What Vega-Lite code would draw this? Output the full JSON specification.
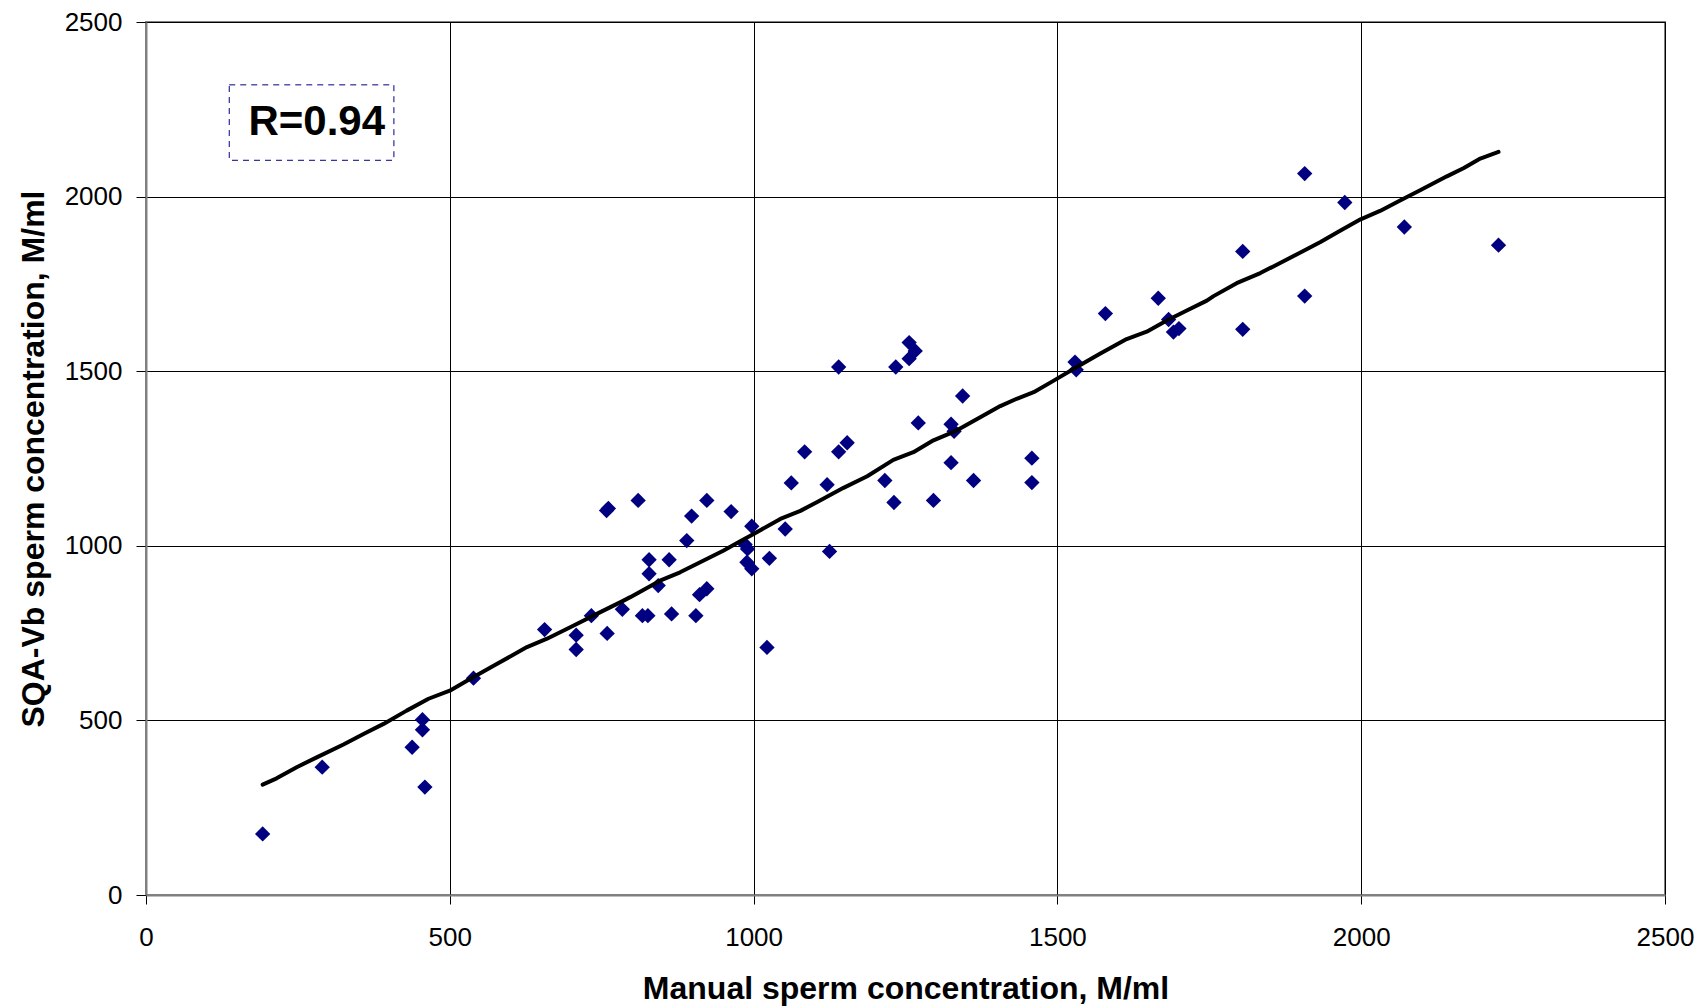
{
  "$schema": "https://vega.github.io/schema/vega-lite/v6.json",
  "width": 1519,
  "height": 873,
  "autosize": {"type": "none"},
  "padding": {"left": 146, "top": 22, "right": 41, "bottom": 113},
  "background": "white",
  "config": {
    "view": {"stroke": "#808080", "strokeWidth": 2},
    "font": "Liberation Sans"
  },
  "datasets": {
    "points": [
      {"manual": 192, "sqa": 175}, {"manual": 290, "sqa": 366}, {"manual": 438, "sqa": 423},
      {"manual": 455, "sqa": 502}, {"manual": 455, "sqa": 473}, {"manual": 459, "sqa": 309},
      {"manual": 539, "sqa": 621}, {"manual": 656, "sqa": 760}, {"manual": 708, "sqa": 744},
      {"manual": 708, "sqa": 703}, {"manual": 733, "sqa": 800}, {"manual": 758, "sqa": 1101},
      {"manual": 761, "sqa": 1107}, {"manual": 759, "sqa": 749}, {"manual": 784, "sqa": 818},
      {"manual": 810, "sqa": 1130}, {"manual": 817, "sqa": 800}, {"manual": 826, "sqa": 800},
      {"manual": 828, "sqa": 960}, {"manual": 828, "sqa": 920}, {"manual": 843, "sqa": 886},
      {"manual": 861, "sqa": 960}, {"manual": 865, "sqa": 805}, {"manual": 890, "sqa": 1015},
      {"manual": 898, "sqa": 1085}, {"manual": 905, "sqa": 800}, {"manual": 911, "sqa": 860},
      {"manual": 923, "sqa": 877}, {"manual": 923, "sqa": 1130}, {"manual": 963, "sqa": 1098},
      {"manual": 986, "sqa": 1004}, {"manual": 990, "sqa": 991}, {"manual": 989, "sqa": 953},
      {"manual": 997, "sqa": 934}, {"manual": 997, "sqa": 1056}, {"manual": 1022, "sqa": 709},
      {"manual": 1026, "sqa": 964}, {"manual": 1052, "sqa": 1048}, {"manual": 1062, "sqa": 1180},
      {"manual": 1084, "sqa": 1269}, {"manual": 1121, "sqa": 1175}, {"manual": 1125, "sqa": 984},
      {"manual": 1140, "sqa": 1512}, {"manual": 1140, "sqa": 1269}, {"manual": 1154, "sqa": 1295},
      {"manual": 1216, "sqa": 1187}, {"manual": 1231, "sqa": 1124}, {"manual": 1234, "sqa": 1512},
      {"manual": 1256, "sqa": 1582}, {"manual": 1256, "sqa": 1536}, {"manual": 1266, "sqa": 1558},
      {"manual": 1271, "sqa": 1352}, {"manual": 1296, "sqa": 1130}, {"manual": 1325, "sqa": 1348},
      {"manual": 1325, "sqa": 1238}, {"manual": 1330, "sqa": 1328}, {"manual": 1344, "sqa": 1429},
      {"manual": 1362, "sqa": 1187}, {"manual": 1458, "sqa": 1251}, {"manual": 1458, "sqa": 1181},
      {"manual": 1529, "sqa": 1526}, {"manual": 1531, "sqa": 1504}, {"manual": 1579, "sqa": 1665},
      {"manual": 1666, "sqa": 1709}, {"manual": 1683, "sqa": 1648}, {"manual": 1691, "sqa": 1612},
      {"manual": 1700, "sqa": 1622}, {"manual": 1805, "sqa": 1843}, {"manual": 1805, "sqa": 1620},
      {"manual": 1907, "sqa": 2066}, {"manual": 1907, "sqa": 1715}, {"manual": 1973, "sqa": 1983},
      {"manual": 2071, "sqa": 1913}, {"manual": 2226, "sqa": 1861}
    ],
    "trend": [
      {"manual": 192, "sqa": 316}, {"manual": 215, "sqa": 334}, {"manual": 248, "sqa": 366},
      {"manual": 281, "sqa": 394}, {"manual": 325, "sqa": 431}, {"manual": 358, "sqa": 461},
      {"manual": 391, "sqa": 490}, {"manual": 429, "sqa": 528}, {"manual": 465, "sqa": 562},
      {"manual": 500, "sqa": 585}, {"manual": 534, "sqa": 619}, {"manual": 578, "sqa": 662},
      {"manual": 627, "sqa": 710}, {"manual": 660, "sqa": 734}, {"manual": 704, "sqa": 772},
      {"manual": 742, "sqa": 805}, {"manual": 786, "sqa": 843}, {"manual": 797, "sqa": 853},
      {"manual": 846, "sqa": 900}, {"manual": 879, "sqa": 924}, {"manual": 912, "sqa": 953},
      {"manual": 950, "sqa": 986}, {"manual": 978, "sqa": 1013}, {"manual": 1000, "sqa": 1034},
      {"manual": 1044, "sqa": 1077}, {"manual": 1077, "sqa": 1100}, {"manual": 1104, "sqa": 1125},
      {"manual": 1148, "sqa": 1166}, {"manual": 1187, "sqa": 1199}, {"manual": 1230, "sqa": 1246},
      {"manual": 1263, "sqa": 1268}, {"manual": 1296, "sqa": 1302}, {"manual": 1334, "sqa": 1330},
      {"manual": 1373, "sqa": 1368}, {"manual": 1406, "sqa": 1400}, {"manual": 1433, "sqa": 1421},
      {"manual": 1461, "sqa": 1440}, {"manual": 1494, "sqa": 1473}, {"manual": 1532, "sqa": 1512},
      {"manual": 1570, "sqa": 1550}, {"manual": 1614, "sqa": 1592}, {"manual": 1647, "sqa": 1613},
      {"manual": 1680, "sqa": 1645}, {"manual": 1713, "sqa": 1674}, {"manual": 1746, "sqa": 1702},
      {"manual": 1757, "sqa": 1715}, {"manual": 1795, "sqa": 1752}, {"manual": 1834, "sqa": 1781},
      {"manual": 1861, "sqa": 1805}, {"manual": 1900, "sqa": 1840}, {"manual": 1933, "sqa": 1870},
      {"manual": 1966, "sqa": 1903}, {"manual": 1999, "sqa": 1935}, {"manual": 2031, "sqa": 1959},
      {"manual": 2064, "sqa": 1989}, {"manual": 2097, "sqa": 2018}, {"manual": 2141, "sqa": 2058},
      {"manual": 2169, "sqa": 2082}, {"manual": 2196, "sqa": 2109}, {"manual": 2226, "sqa": 2128}
    ],
    "label": [
      {"text": "R=0.94", "x0": 137, "x1": 408, "y0": 2104, "y1": 2320, "tx": 281, "ty": 2213}
    ]
  },
  "layer": [
    {
      "data": {"name": "points"},
      "mark": {"type": "point", "shape": "diamond", "filled": true, "color": "#000080", "size": 235, "opacity": 1},
      "encoding": {
        "x": {
          "field": "manual", "type": "quantitative",
          "scale": {"domain": [0, 2500], "nice": false, "zero": false},
          "axis": {
            "values": [0, 500, 1000, 1500, 2000, 2500],
            "format": "d",
            "labelFlush": false,
            "title": "Manual sperm concentration, M/ml",
            "grid": true, "gridColor": "#000000", "gridWidth": 1, "gridOpacity": 1,
            "domainColor": "#808080", "domainWidth": 2,
            "tickColor": "#000000", "tickSize": 9, "tickWidth": 1,
            "labelFontSize": 26, "labelColor": "#000000", "labelPadding": 20, "labelFont": "Liberation Sans",
            "titleFont": "Liberation Sans", "titleFontSize": 32, "titleFontWeight": "bold", "titleColor": "#000000",
            "titlePadding": 23
          }
        },
        "y": {
          "field": "sqa", "type": "quantitative",
          "scale": {"domain": [0, 2500], "nice": false, "zero": false},
          "axis": {
            "values": [0, 500, 1000, 1500, 2000, 2500],
            "format": "d",
            "labelFlush": false,
            "title": "SQA-Vb sperm concentration, M/ml",
            "grid": true, "gridColor": "#000000", "gridWidth": 1, "gridOpacity": 1,
            "domainColor": "#808080", "domainWidth": 2,
            "tickColor": "#000000", "tickSize": 10, "tickWidth": 1,
            "labelFontSize": 26, "labelColor": "#000000", "labelPadding": 14, "labelFont": "Liberation Sans",
            "titleFont": "Liberation Sans", "titleFontSize": 32, "titleFontWeight": "bold", "titleColor": "#000000",
            "titlePadding": 14
          }
        }
      }
    },
    {
      "data": {"name": "trend"},
      "mark": {"type": "line", "color": "#000000", "strokeWidth": 4, "strokeCap": "round", "strokeJoin": "round"},
      "encoding": {
        "x": {"field": "manual", "type": "quantitative"},
        "y": {"field": "sqa", "type": "quantitative"}
      }
    },
    {
      "data": {"name": "label"},
      "mark": {"type": "rect", "fill": null, "fillOpacity": 0, "stroke": "#000080", "strokeWidth": 1, "strokeDash": [6, 5]},
      "encoding": {
        "x": {"field": "x0", "type": "quantitative"},
        "x2": {"field": "x1"},
        "y": {"field": "y0", "type": "quantitative"},
        "y2": {"field": "y1"}
      }
    },
    {
      "data": {"name": "label"},
      "mark": {"type": "text", "fontSize": 42, "fontWeight": "bold", "font": "Liberation Sans", "color": "#000000", "align": "center", "baseline": "middle"},
      "encoding": {
        "x": {"field": "tx", "type": "quantitative"},
        "y": {"field": "ty", "type": "quantitative"},
        "text": {"field": "text"}
      }
    }
  ]
}
